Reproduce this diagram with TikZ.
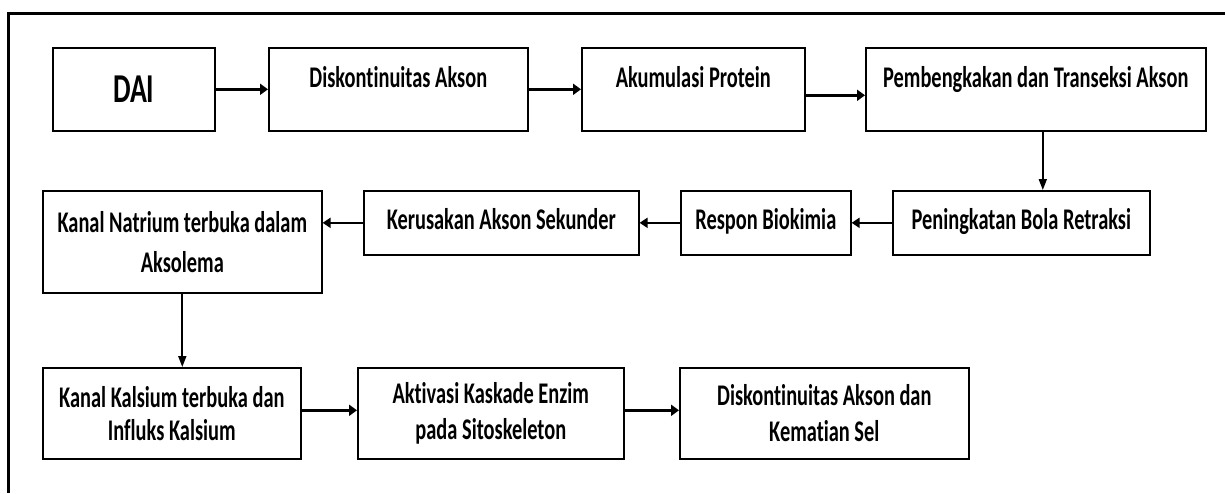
\documentclass[tikz,border=0pt]{standalone}
\usepackage{fontspec}
\newfontfamily\boxfont{Carlito}[FakeStretch=0.68,Ligatures=NoCommon]
\usetikzlibrary{positioning,arrows.meta}

\begin{document}
\begin{tikzpicture}[x=1pt,y=-1pt,inner sep=0pt,
  box/.style={draw,line width=1.6pt,anchor=north west,align=center,
    font=\boxfont\bfseries\fontsize{30}{36}\selectfont},
  toptext/.style={text height=21pt,text depth=24pt},
  onetext/.style={text height=21pt,text depth=7pt},
  arr/.style={line width=3pt,-{Triangle[length=8pt,width=11pt]}},
  arrthin/.style={line width=2.4pt,-{Triangle[length=8pt,width=10pt]}},
  arrdown/.style={line width=1.7pt,-{Triangle[length=11pt,width=8pt]}}]
\useasboundingbox (0,0) rectangle (1225,493);
\draw[line width=3pt] (8,493) -- (8,13) -- (1225,13);

% row 1
\node (dai) at (52,47) [box,minimum width=162pt,minimum height=83pt,
  font=\boxfont\bfseries\fontsize{41}{44}\selectfont] {DAI};
\node (dis) at (268,47) [box,toptext,minimum width=259pt,minimum height=83pt] {Diskontinuitas Akson};
\node (akm) at (581,47) [box,toptext,minimum width=223pt,minimum height=83pt] {Akumulasi Protein};
\node (pmb) at (865,47) [box,toptext,minimum width=340pt,minimum height=83pt] {Pembengkakan dan Transeksi Akson};

% row 2
\node (nat) at (42,190) [box,minimum width=279pt,minimum height=102pt] {Kanal Natrium terbuka dalam\\[4pt]Aksolema};
\node (ker) at (363,190) [box,onetext,minimum width=275pt,minimum height=64pt] {Kerusakan Akson Sekunder};
\node (res) at (680,190) [box,onetext,minimum width=170pt,minimum height=64pt] {Respon Biokimia};
\node (pen) at (892,190) [box,onetext,minimum width=257pt,minimum height=64pt] {Peningkatan Bola Retraksi};

% row 3
\node (kal) at (42,367) [box,minimum width=258pt,minimum height=91pt] {Kanal Kalsium terbuka dan\\[-3pt]Influks Kalsium};
\node (akt) at (357,367) [box,minimum width=266pt,minimum height=91pt] {Aktivasi Kaskade Enzim\\pada Sitoskeleton};
\node (dsl) at (679,367) [box,minimum width=289pt,minimum height=91pt] {Diskontinuitas Akson dan\\Kematian Sel};

% arrows
\draw[arr] (dai) -- (dis);
\draw[arr] (dis) -- (akm);
\draw[arr] ([yshift=-6pt]akm.east) -- ([yshift=-6pt]pmb.west);
\draw[arrdown] ([xshift=7pt]pmb.south) -- ([xshift=7pt]pmb.south |- pen.north);
\draw[arrthin] (pen) -- (res);
\draw[arrthin] (res) -- (ker);
\draw[arrthin] (ker.west) -- (ker.west -| nat.east);
\draw[arrdown] (nat.south) -- (nat.south |- kal.north);
\draw[arr] ([yshift=3pt]kal.east) -- ([yshift=3pt]akt.west);
\draw[arr] ([yshift=3pt]akt.east) -- ([yshift=3pt]dsl.west);

\end{tikzpicture}
\end{document}
